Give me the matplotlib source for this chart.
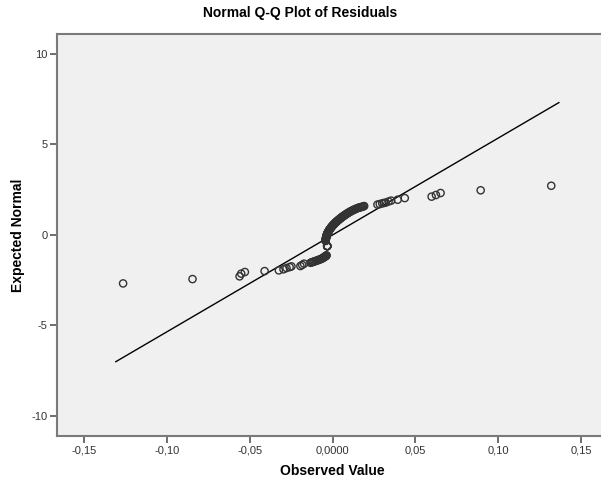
import matplotlib
matplotlib.use('Agg')
import matplotlib.pyplot as plt
from matplotlib.ticker import FuncFormatter

plt.rcParams['font.family'] = ['Liberation Sans', 'DejaVu Sans']

# observed residuals (x) and expected normal values (y)
tail_low_x = [-0.1264, -0.0845, -0.0561, -0.0551, -0.0529, -0.0410, -0.0324,
              -0.0296, -0.0278, -0.0259, -0.0248, -0.0194, -0.0183, -0.0172]
tail_low_y = [-2.68, -2.44, -2.29, -2.14, -2.05, -2.00, -1.96,
              -1.90, -1.83, -1.78, -1.74, -1.72, -1.66, -1.59]

cluster_x = [-0.0133, -0.0126, -0.0120, -0.0114, -0.0108, -0.0101, -0.0095,
             -0.0089, -0.0083, -0.0077, -0.0072, -0.0067, -0.0062, -0.0057,
             -0.0053, -0.0049, -0.0046, -0.0043, -0.0040, -0.0038, -0.0036]
cluster_y = [-1.54, -1.52, -1.50, -1.48, -1.46, -1.44, -1.42,
             -1.40, -1.38, -1.36, -1.34, -1.32, -1.30, -1.27,
             -1.25, -1.22, -1.20, -1.18, -1.16, -1.15, -1.13]

# tied residuals share one mean rank
tie_x = [-0.0032, -0.0032, -0.0032, -0.0032, -0.0032, -0.0032]
tie_y = [-0.62, -0.62, -0.62, -0.62, -0.62, -0.62]

curve_x = [-0.0042, -0.0042, -0.0041, -0.0041, -0.0040, -0.0040, -0.0039,
           -0.0039, -0.0038, -0.0037, -0.0037, -0.0036, -0.0035, -0.0034,
           -0.0033, -0.0032, -0.0031, -0.0030, -0.0028, -0.0027, -0.0025,
           -0.0024, -0.0022, -0.0021, -0.0019, -0.0017, -0.0015, -0.0013,
           -0.0011, -0.0009, -0.0007, -0.0005, -0.0003, 0.0000, 0.0002,
           0.0005, 0.0007, 0.0010, 0.0012, 0.0015, 0.0018, 0.0021, 0.0024,
           0.0027, 0.0030, 0.0033, 0.0036, 0.0040, 0.0043, 0.0046, 0.0050,
           0.0053, 0.0057, 0.0060, 0.0064, 0.0068, 0.0072, 0.0076, 0.0080,
           0.0084, 0.0088, 0.0092, 0.0097, 0.0101, 0.0106, 0.0111, 0.0116,
           0.0121, 0.0127, 0.0133, 0.0139, 0.0145, 0.0152, 0.0159, 0.0166,
           0.0172, 0.0178, 0.0185, 0.0191]
curve_y = [-0.34, -0.31, -0.28, -0.25, -0.22, -0.20, -0.17,
           -0.15, -0.12, -0.10, -0.07, -0.05, -0.02, 0.00,
           0.03, 0.05, 0.08, 0.10, 0.13, 0.15, 0.18,
           0.20, 0.23, 0.25, 0.28, 0.30, 0.33, 0.35,
           0.38, 0.40, 0.43, 0.45, 0.48, 0.50, 0.53,
           0.55, 0.58, 0.60, 0.63, 0.65, 0.68, 0.70, 0.73,
           0.75, 0.78, 0.80, 0.83, 0.85, 0.88, 0.90, 0.93,
           0.95, 0.98, 1.00, 1.03, 1.05, 1.08, 1.10, 1.13,
           1.15, 1.18, 1.20, 1.23, 1.25, 1.28, 1.30, 1.33,
           1.35, 1.38, 1.40, 1.43, 1.45, 1.48, 1.50, 1.52,
           1.53, 1.55, 1.57, 1.59]

tail_high_x = [0.0271, 0.0285, 0.0300, 0.0310, 0.0321, 0.0338, 0.0354,
               0.0393, 0.0436, 0.0598, 0.0624, 0.0652, 0.0894, 0.1320]
tail_high_y = [1.67, 1.70, 1.74, 1.76, 1.78, 1.84, 1.89,
               1.94, 2.03, 2.11, 2.20, 2.31, 2.46, 2.71]

# reference line end points
line_x = [-0.1308, 0.1366]
line_y = [-7.00, 7.30]

x_ticks = [-0.15, -0.10, -0.05, 0.0, 0.05, 0.10, 0.15]
y_ticks = [-10, -5, 0, 5, 10]

obs = tail_low_x + cluster_x + tie_x + curve_x + tail_high_x
exp = tail_low_y + cluster_y + tie_y + curve_y + tail_high_y

fig = plt.figure(figsize=(6.01, 4.80), dpi=100)
ax = fig.add_axes([0.0948, 0.0917, 0.917, 0.838])
ax.set_facecolor('#F0F0F0')

ax.plot(line_x, line_y, color='black', lw=1.0, zorder=2)
ax.scatter(obs, exp, s=27, facecolors='none', edgecolors='#333333',
           linewidths=1.0, zorder=3)

ax.set_xlim(-0.1663, 0.1663)
ax.set_ylim(-11.1, 11.1)
ax.set_xticks(x_ticks)
ax.set_yticks(y_ticks)


def fmt_x(v, pos):
    if abs(v) < 1e-9:
        return '0,0000'
    return ('%.2f' % v).replace('.', ',')


ax.xaxis.set_major_formatter(FuncFormatter(fmt_x))
ax.yaxis.set_major_formatter(FuncFormatter(lambda v, p: '%d' % v))

for side in ['left', 'bottom', 'top']:
    ax.spines[side].set_color('#7a7a7a')
    ax.spines[side].set_linewidth(1.5)
ax.spines['right'].set_visible(False)

ax.tick_params(axis='both', direction='out', length=5, width=1.2,
               color='#555555', labelsize=8, labelcolor='#333333', pad=2)

ax.set_xlabel('Observed Value', fontsize=10, fontweight='bold', labelpad=6)
fig.text(0.03, 0.51, 'Expected Normal', rotation=90, fontsize=10,
         fontweight='bold', ha='center', va='center')
fig.text(0.5, 0.972, 'Normal Q-Q Plot of Residuals', fontsize=10,
         fontweight='bold', ha='center', va='center')

plt.savefig('out.png', dpi=100)
